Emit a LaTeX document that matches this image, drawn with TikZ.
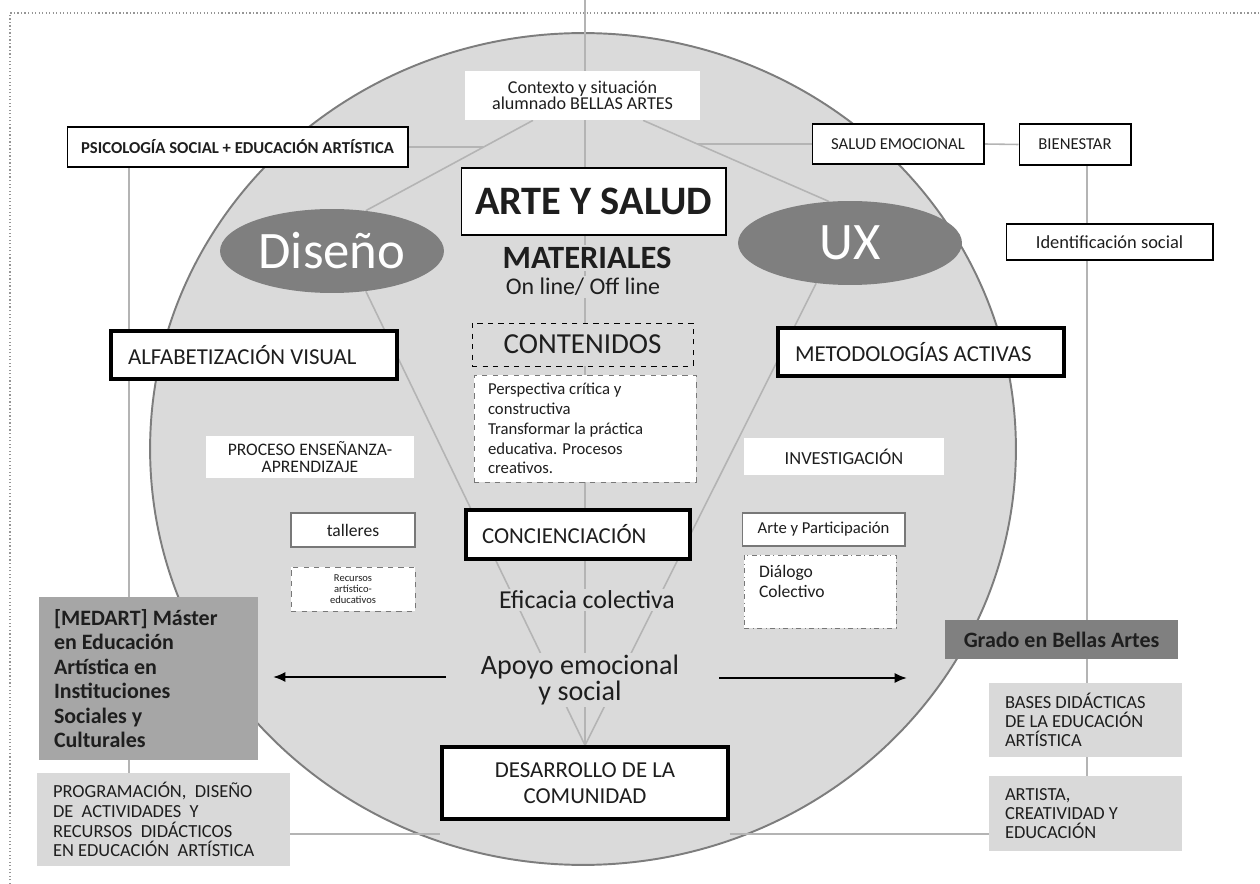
\documentclass[tikz,border=0pt]{standalone}
\usepackage{fontspec}
\setmainfont{Carlito}
\usetikzlibrary{arrows.meta,backgrounds,calc,shapes.geometric}
\definecolor{circfill}{RGB}{218,218,218}
\definecolor{circedge}{RGB}{125,125,125}
\definecolor{linkgray}{RGB}{180,180,180}
\definecolor{ellgray}{RGB}{127,127,127}
\definecolor{medgray}{RGB}{166,166,166}
\definecolor{gradogray}{RGB}{128,128,128}
\definecolor{lightbox}{RGB}{217,217,217}
\definecolor{boxedge}{RGB}{120,120,120}
\definecolor{dotgray}{RGB}{150,150,150}
\definecolor{ink}{RGB}{30,30,30}
\tikzset{
  link/.style={draw=linkgray,line width=0.9pt},
  whitebox/.style={fill=white,inner sep=0pt,align=center,text=ink},
  thinbox/.style={whitebox,draw=black,line width=0.6pt},
  greybox/.style={whitebox,draw=boxedge,line width=0.6pt},
  heavybox/.style={fill=white,draw=black,line width=2pt,inner sep=0pt,text=ink},
  onfill/.style={fill=circfill,inner sep=1pt,align=center,text=ink},
  oval/.style={ellipse,fill=ellgray,text=white,inner sep=0pt,minimum width=4.48cm,minimum height=1.68cm,font=\fontsize{30}{32}\selectfont},
  arrow/.style={-{Latex[length=0.24cm,width=0.2cm]},line width=0.8pt},
}
\begin{document}
\begin{tikzpicture}[x=0.02cm,y=-0.02cm]
\useasboundingbox(0,0)rectangle(1260,884);
\begin{scope}[on background layer]
\draw[dotgray,line width=0.7pt,dash pattern=on 0.7pt off 1.3pt](10,884)--(10,13)--(1260,13);
\filldraw[fill=circfill,draw=circedge,line width=1.1pt](583,449)ellipse[x radius=8.66cm,y radius=8.32cm];
\end{scope}

\node[whitebox,minimum width=4.7cm,minimum height=0.98cm,font=\fontsize{10.3}{9.5}\selectfont](ctx)at(582.5,95.5){Contexto y situación\\alumnado BELLAS ARTES};
\node[thinbox,minimum width=6.82cm,minimum height=0.8cm,font=\bfseries\fontsize{9.5}{11}\selectfont](psi)at(237.5,147){PSICOLOGÍA SOCIAL + EDUCACIÓN ARTÍSTICA};
\node[thinbox,minimum width=3.44cm,minimum height=0.8cm,font=\fontsize{9.5}{11}\selectfont](emo)at(898,144){SALUD EMOCIONAL};
\node[thinbox,minimum width=2.24cm,minimum height=0.82cm,font=\fontsize{9.5}{11}\selectfont](bien)at(1075,144.5){BIENESTAR};
\node[thinbox,minimum width=4.14cm,minimum height=0.72cm,font=\fontsize{10.5}{12}\selectfont](iden)at(1109.5,242){Identificación social};
\node[thinbox,minimum width=5.3cm,minimum height=1.34cm,font=\bfseries\fontsize{23}{26}\selectfont](arte)at(593.5,201.5){ARTE Y SALUD};
\node[oval](dis)at(332,251){Diseño};
\node[oval](ux)at(850,243){UX};
\node[onfill,font=\bfseries\fontsize{18.5}{20}\selectfont](mat)at(587,258){MATERIALES};
\node[onfill,font=\fontsize{13.6}{15}\selectfont](onl)at(583,287){On line/ Off line};
\node[draw=black,dashed,fill=circfill,text=ink,inner sep=0pt,minimum width=4.42cm,minimum height=0.86cm,font=\fontsize{16.5}{18}\selectfont](cont)at(582.5,344.5){CONTENIDOS};
\node[whitebox,draw=boxedge,dashed,align=flush left,text width=3.88cm,inner xsep=0.28cm,minimum height=2.14cm,font=\fontsize{9.5}{11.3}\selectfont](persp)at(585,428.5){Perspectiva crítica y\\constructiva\\Transformar la práctica\\educativa. Procesos\\creativos.};
\node[heavybox,align=flush left,text width=5.04cm,inner xsep=0.34cm,minimum height=0.96cm,font=\fontsize{13}{15}\selectfont](alfa)at(254,355){ALFABETIZACIÓN VISUAL};
\node[heavybox,align=flush left,text width=5.04cm,inner xsep=0.34cm,minimum height=0.96cm,font=\fontsize{13}{15}\selectfont](meto)at(921,352){METODOLOGÍAS ACTIVAS};
\node[whitebox,minimum width=4.16cm,minimum height=0.84cm,font=\fontsize{10}{10}\selectfont](proc)at(310,457){PROCESO ENSEÑANZA-\\APRENDIZAJE};
\node[greybox,minimum width=2.48cm,minimum height=0.68cm,font=\fontsize{10}{12}\selectfont](tall)at(353,530){talleres};
\node[whitebox,draw=boxedge,dashed,minimum width=2.48cm,minimum height=0.88cm,font=\fontsize{6}{6.2}\selectfont](recu)at(353,589){Recursos\\artístico-\\educativos};
\node[whitebox,minimum width=4cm,minimum height=0.74cm,font=\fontsize{10.5}{12}\selectfont](inv)at(844,456.5){INVESTIGACIÓN};
\node[greybox,minimum width=3.26cm,minimum height=0.66cm,font=\fontsize{9.5}{11}\selectfont](artp)at(823.5,529.5){Arte y Participación};
\node[whitebox,draw=boxedge,dash dot,align=flush left,text width=2.44cm,inner xsep=0.3cm,minimum height=1.46cm,font=\fontsize{10}{11.3}\selectfont](dial)at(820,591.5){Diálogo\\Colectivo\\\mbox{}};
\node[heavybox,align=flush left,text width=3.84cm,inner xsep=0.32cm,minimum height=0.98cm,font=\fontsize{13}{15}\selectfont](conc)at(578,534.5){CONCIENCIACIÓN};
\node[onfill,font=\fontsize{14.7}{16}\selectfont](efi)at(587,600){Eficacia colectiva};
\node[onfill,font=\fontsize{16}{13.6}\selectfont](apo)at(580,680){Apoyo emocional\\y social};
\node[heavybox,align=center,minimum width=5.72cm,minimum height=1.44cm,font=\fontsize{13}{14.7}\selectfont](desa)at(585,783){DESARROLLO DE LA\\COMUNIDAD};
\node[fill=medgray,text=ink,inner sep=0pt,inner xsep=0.3cm,align=flush left,text width=3.78cm,minimum height=3.26cm,font=\bfseries\fontsize{12.5}{13.9}\selectfont](med)at(148.5,678.5){[MEDART] Máster\\en Educación\\Artística en\\Instituciones\\Sociales y\\Culturales};
\node[fill=lightbox,text=ink,inner sep=0pt,inner xsep=0.32cm,align=flush left,text width=4.42cm,minimum height=1.86cm,font=\fontsize{10.5}{11.3}\selectfont](prog)at(163.5,819.5){PROGRAMACIÓN,\ \ DISEÑO\\DE\ \ ACTIVIDADES\ \ Y\\RECURSOS\ \ DIDÁCTICOS\\EN EDUCACIÓN\ \ ARTÍSTICA};
\node[fill=gradogray,text=ink,inner sep=0pt,minimum width=4.66cm,minimum height=0.78cm,font=\bfseries\fontsize{12.5}{14}\selectfont](grado)at(1061.5,639.5){Grado en Bellas Artes};
\node[fill=lightbox,text=ink,inner sep=0pt,inner xsep=0.32cm,align=flush left,text width=3.22cm,minimum height=1.48cm,font=\fontsize{10.5}{10.8}\selectfont](bases)at(1085.5,720){BASES DIDÁCTICAS\\DE LA EDUCACIÓN\\ARTÍSTICA};
\node[fill=lightbox,text=ink,inner sep=0pt,inner xsep=0.32cm,align=flush left,text width=3.22cm,minimum height=1.5cm,font=\fontsize{10.5}{10.8}\selectfont](arti)at(1085.5,813.5){ARTISTA,\\CREATIVIDAD Y\\EDUCACIÓN};

\begin{scope}[on background layer]
\coordinate(top)at(585,0);
\coordinate(lv)at(129,0);
\coordinate(rv)at(1087,0);
\coordinate(hb)at(0,834);
\draw[link](desa.north|-top)--(desa.north);
\draw[link](dis.-50)--(desa.north);
\draw[link](ux.-130)--(desa.north);
\draw[link]($(ctx.south west)!.29!(ctx.south east)$)--coordinate[pos=.3](kl)(dis.50);
\draw[link]($(ctx.south west)!.757!(ctx.south east)$)--coordinate[pos=.29](kr)(ux.117);
\draw[link](psi.east)--(psi.east-|kl);
\draw[link](emo.west)--(emo.west-|kr);
\draw[link](emo.east)--(bien.west);
\draw[link](psi.south-|lv)--(med.north-|lv);
\draw[link](med.south-|lv)--(prog.north-|lv);
\draw[link](bien.south-|rv)--(iden.north-|rv);
\draw[link](iden.south-|rv)--(grado.north-|rv);
\draw[link](grado.south-|rv)--(bases.north-|rv);
\draw[link](bases.south-|rv)--(arti.north-|rv);
\draw[link](prog.east|-hb)--(desa.west|-hb);
\draw[link](desa.east|-hb)--(arti.west|-hb);
\end{scope}

\coordinate(al)at(446,677);
\coordinate(ar)at(719,678);
\draw[arrow,shorten >=0.3cm](al)--(med.east|-al);
\draw[arrow,shorten >=0.76cm](ar)--(grado.west|-ar);
\end{tikzpicture}
\end{document}
